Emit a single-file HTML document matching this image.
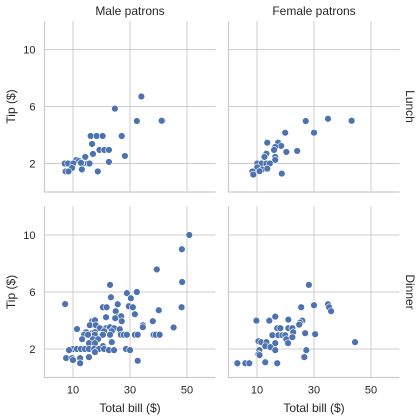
<!DOCTYPE html>
<html><head><meta charset="utf-8"><style>
html,body{margin:0;padding:0;background:#fff;}
svg{display:block;font-family:"Liberation Sans","DejaVu Sans",sans-serif;}
</style></head><body>
<svg id="c" width="420" height="420" viewBox="0 0 420 420"></svg>
<script>
const colTitles = ["Male patrons","Female patrons"];
const rowTitles = ["Lunch","Dinner"];
const xTicks = [10,30,50];
const yTicks = [2,6,10];
const lunchMaleX = [24.7,34,41.4,32.4,41.1,16.2,18.3,20.4,27.1,16.7,19.3,21.0,22.6,17.0,28.2,14.3,11.2,12.1,22.6,7.1,8.3,10.1,13.5,15.2,15.8,12.8,9.7,13.1,7.4,8.4,18.7];
const lunchMaleY = [5.85,6.7,5.0,4.98,5.0,3.93,3.93,3.93,3.93,3.37,2.95,2.95,2.95,2.67,2.53,2.46,2.25,2.18,2.11,2.0,2.0,2.0,2.0,2.0,2.0,2.05,1.69,1.58,1.44,1.44,1.44];
const lunchFemX = [27.1,34.9,43.2,19.9,30.0,13.6,17.4,18.5,16.4,16.0,20.3,24.1,13.3,12.6,16.4,16.4,10.1,11.6,13.3,14.5,10.1,11.8,13.6,10.9,8.4,8.7,18.7];
const lunchFemY = [4.98,5.14,5.0,4.16,4.16,3.46,3.46,3.23,3.16,2.95,2.81,2.88,2.69,2.46,2.46,2.25,2.0,2.0,2.0,2.0,1.73,1.58,1.64,1.46,1.44,1.22,1.29];
const dinnerMaleX = [50.8,48.2,39.4,48.3,23.0,7.25,28.9,32.4,23.3,30.3,25.7,20.5,21.8,29.6,31.0,25.0,40.1,48.1,31.7,25.4,21.6,26.9,24.8,16.7,17.7,27.1,38.0,34.5,34.5,45.3,11.4,15.9,18.0,19.4,21.6,23.0,24.4,26.4,14.6,16.7,17.7,20.9,23.6,13.9,15.3,17.7,20.2,20.5,23.0,26.8,27.8,28.9,31.7,32.7,38.3,39.0,40.4,13.2,17.0,18.8,15.6,17.7,20.5,23.6,10.0,11.4,12.8,14.2,15.6,17.4,19.1,20.9,22.6,24.4,28.6,30.0,8.6,7.6,9.7,10.0,12.5,15.6,17.7,12.5,32.7];
const dinnerMaleY = [10.0,9.0,7.58,6.7,6.5,5.15,5.92,6.0,5.63,5.56,5.14,4.93,4.93,5.0,4.93,4.65,4.72,4.93,4.44,4.23,4.23,4.3,4.16,3.95,4.02,3.95,3.95,3.67,3.53,3.51,3.4,3.67,3.67,3.46,3.46,3.53,3.46,3.39,3.18,3.11,3.18,3.25,3.25,3.0,3.0,3.0,3.0,3.0,3.0,3.0,3.0,3.0,3.0,3.0,3.0,3.0,3.0,2.69,2.69,2.69,2.41,2.41,2.2,2.48,2.0,2.0,2.0,2.0,2.0,2.0,2.0,2.0,1.92,1.92,2.0,1.92,1.92,1.36,1.36,1.22,1.36,1.43,1.78,1.0,1.17];
const dinnerFemX = [28.2,30.0,34.9,35.3,36.0,25.5,9.8,14.3,16.4,21.0,25.9,25.1,24.8,15.4,17.1,18.2,21.0,22.4,22.7,26.9,30.4,17.5,18.9,19.9,20.3,20.9,22.4,10.5,11.5,13.3,16.4,12.9,14.7,16.4,10.8,10.5,10.9,27.3,26.6,44.4,3.1,5.9,7.3,12.9,17.1];
const dinnerFemY = [6.5,5.07,5.14,4.93,4.65,4.93,3.99,3.99,4.27,4.06,3.99,3.85,3.71,2.97,3.46,3.46,3.46,3.46,3.18,3.11,3.04,2.97,2.97,2.97,2.69,2.41,2.83,2.55,2.48,2.48,2.41,2.2,2.13,1.92,1.92,1.64,1.57,1.92,1.43,2.48,1.0,1.0,1.0,1.07,1.0];

const NS="http://www.w3.org/2000/svg";
const svg=document.getElementById('c');
function mk(tag,attrs,parent){const e=document.createElementNS(NS,tag);for(const k in attrs)e.setAttribute(k,attrs[k]);(parent||svg).appendChild(e);return e;}
const colX=[44.5,228.5], rowY=[21,206.5], pw=171, ph=171;
const xMin=0,xMax=60,yMin=0,yMax=12;
const panels=[[ [lunchMaleX,lunchMaleY],[lunchFemX,lunchFemY] ],[ [dinnerMaleX,dinnerMaleY],[dinnerFemX,dinnerFemY] ]];
for(let r=0;r<2;r++)for(let c=0;c<2;c++){
  const x0=colX[c], y0=rowY[r];
  const sx=v=>x0+(v-xMin)/(xMax-xMin)*pw;
  const sy=v=>y0+ph-(v-yMin)/(yMax-yMin)*ph;
  const g=mk('g',{});
  
  
  xTicks.forEach(t=>{const l=mk('line',{x1:sx(t),x2:sx(t),y1:y0,y2:y0+ph,stroke:'#cccccc','stroke-width':1},g);
    
    if(r===1){const tx=mk('text',{x:sx(t),y:y0+ph+16,'text-anchor':'middle','font-size':11,fill:'#262626'},g);tx.textContent=t;
      }});
  yTicks.forEach(t=>{const l=mk('line',{x1:x0,x2:x0+pw,y1:sy(t),y2:sy(t),stroke:'#cccccc','stroke-width':1},g);
    
    if(c===0){const tx=mk('text',{x:x0-9,y:sy(t)+4,'text-anchor':'end','font-size':11,fill:'#262626'},g);tx.textContent=t;
      }});
  const ax=mk('path',{d:`M${x0} ${y0}V${y0+ph}H${x0+pw}`,fill:'none',stroke:'#cccccc','stroke-width':1.2},g);
  
  const [xs,ys]=panels[r][c];
  xs.forEach((v,i)=>{const p=mk('circle',{cx:sx(v),cy:sy(ys[i]),r:3.4,fill:'#4c72b0',stroke:'#ffffff','stroke-width':0.6},g);
    });
  if(r===0){const t=mk('text',{x:x0+pw/2,y:15,'text-anchor':'middle','font-size':12,fill:'#262626'});t.textContent=colTitles[c];
    }
  if(c===1){const cy=y0+ph/2;const t=mk('text',{x:406,y:cy,'text-anchor':'middle','font-size':12,fill:'#262626',transform:`rotate(90 406 ${cy})`});t.textContent=rowTitles[r];
    }
  if(c===0){const cy=y0+ph/2;const t=mk('text',{x:15,y:cy,'text-anchor':'middle','font-size':12,fill:'#262626',transform:`rotate(-90 15 ${cy})`});t.textContent='Tip ($)';
    }
  if(r===1){const t=mk('text',{x:x0+pw/2,y:412,'text-anchor':'middle','font-size':12,fill:'#262626'});t.textContent='Total bill ($)';
    }
}
</script>
</body></html>
